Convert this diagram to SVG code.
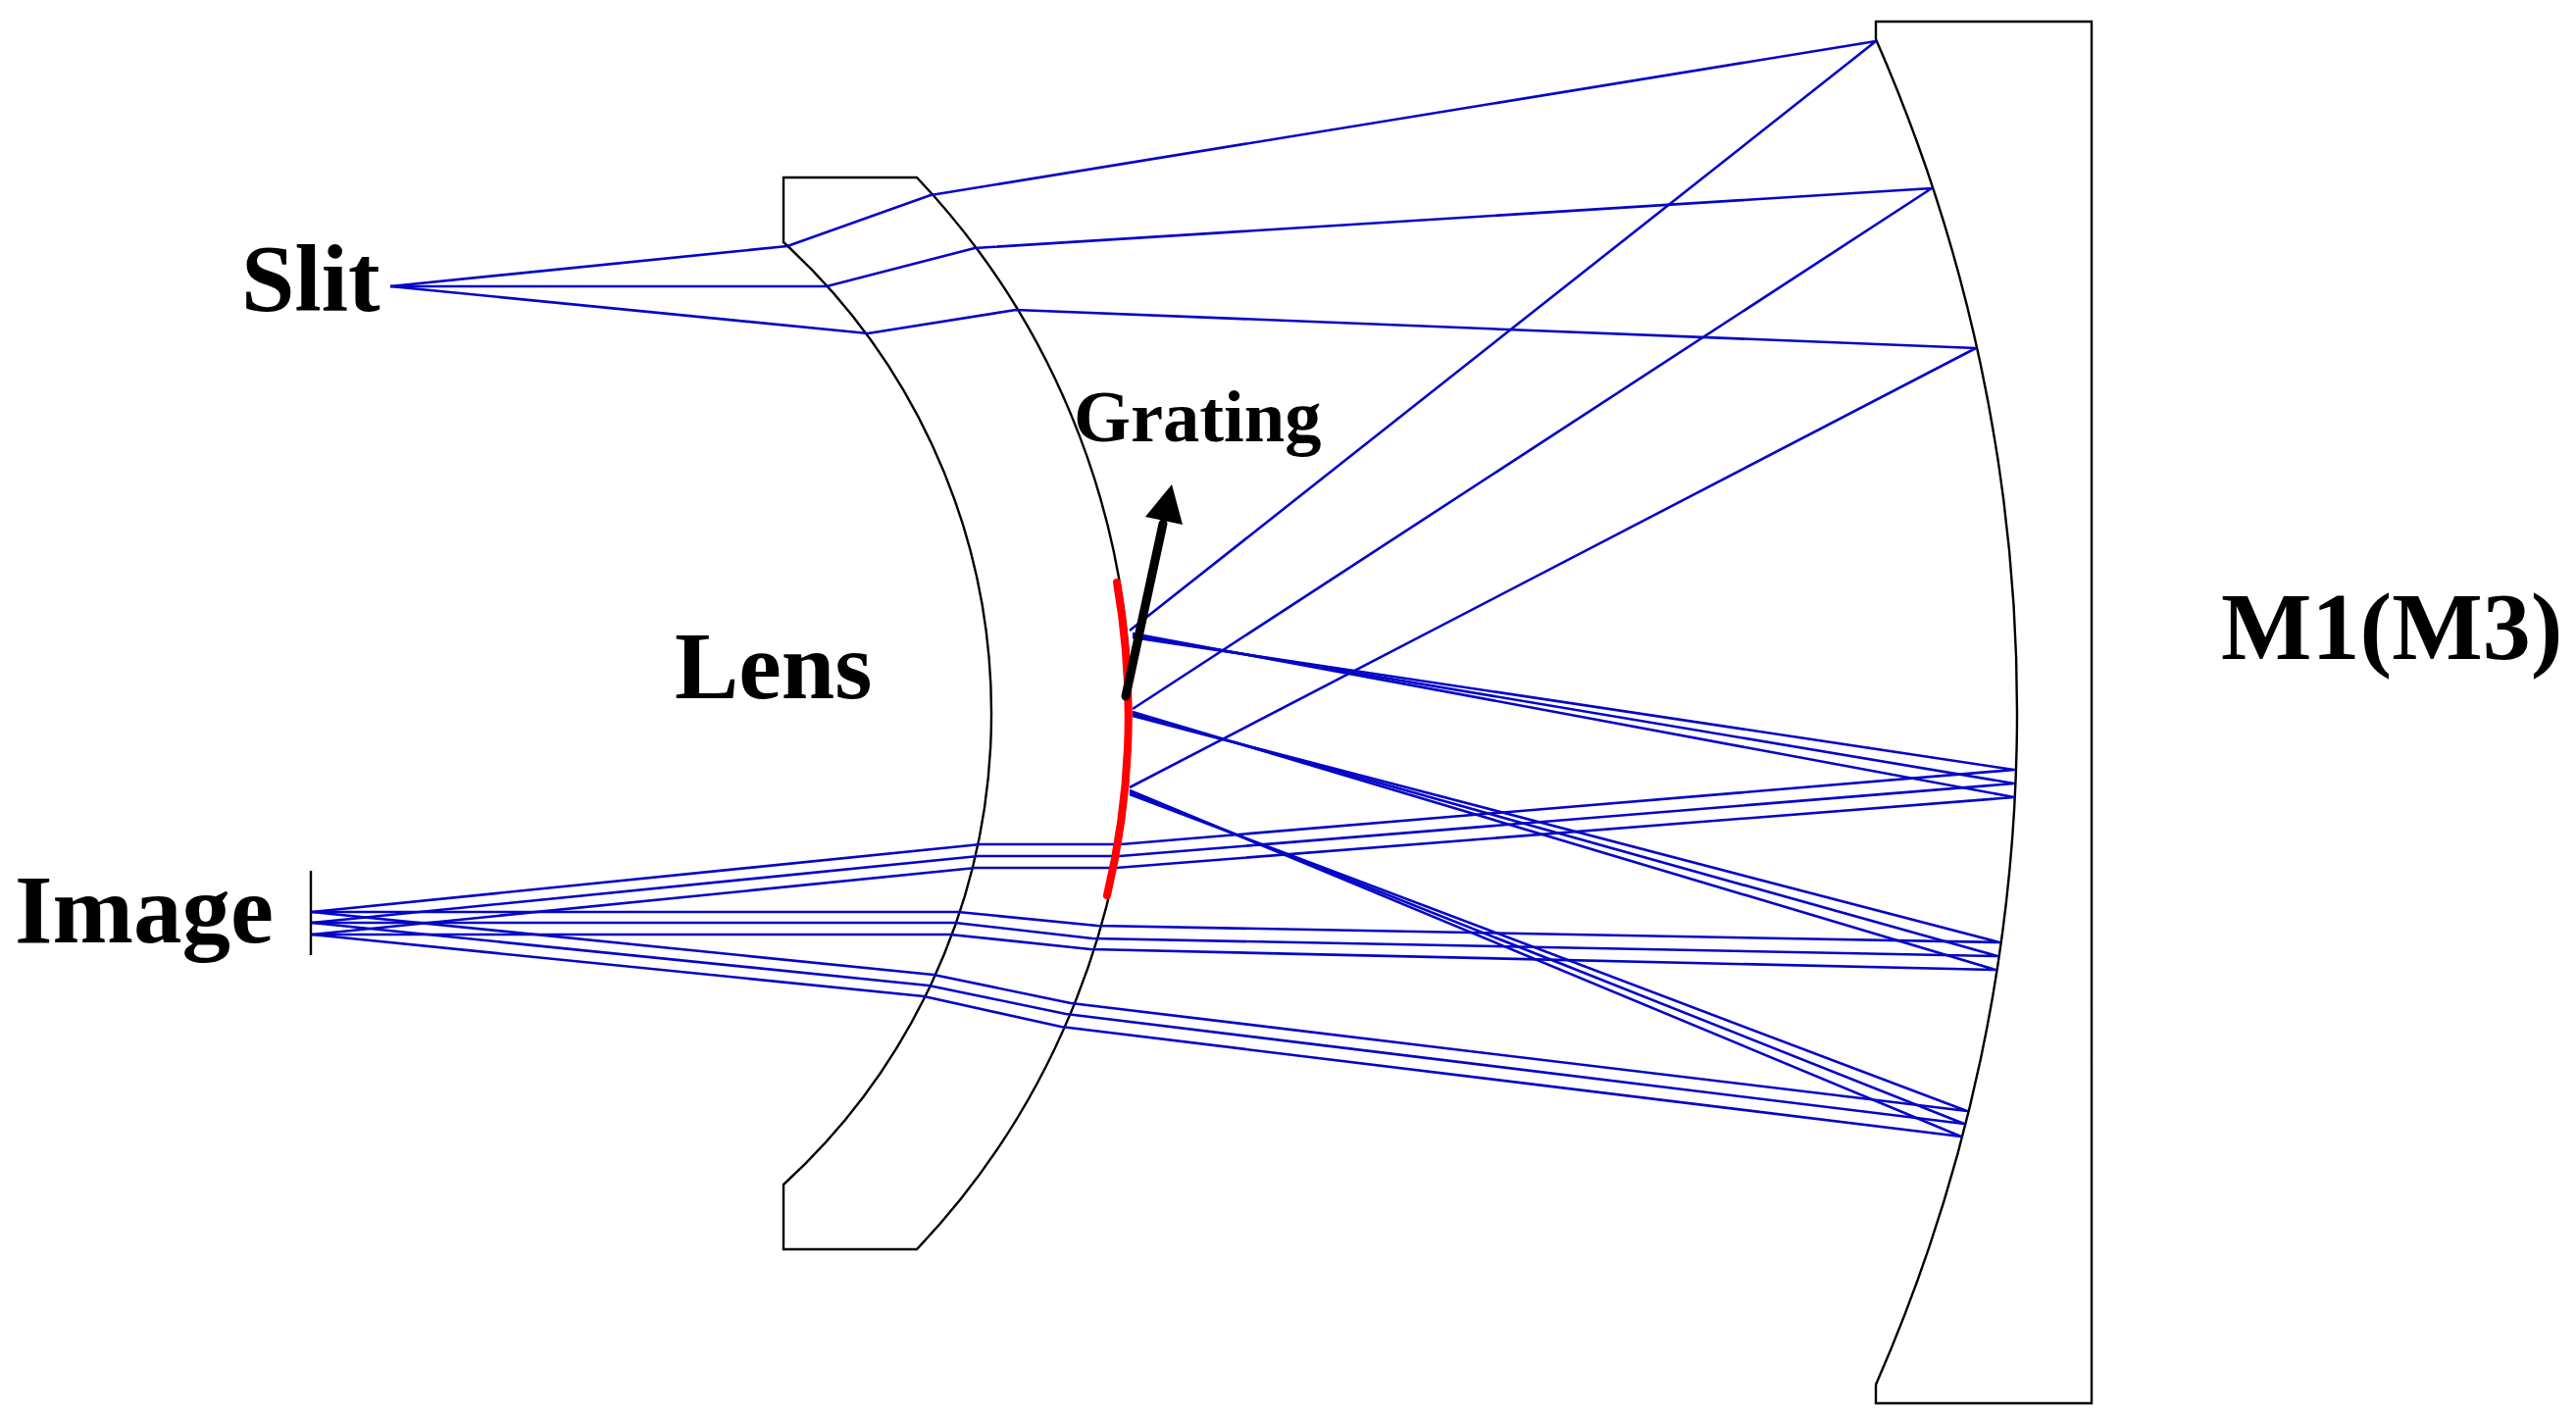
<svg xmlns="http://www.w3.org/2000/svg" width="2627" height="1444" viewBox="0 0 2627 1444">
<style>
.o{fill:none;stroke:#000;stroke-width:2.4}
.r{fill:none;stroke:#0505c8;stroke-width:2.6;stroke-linejoin:round}
.t{font-family:"Liberation Serif","Times New Roman",serif;font-weight:700;fill:#000}
</style>
<rect width="2627" height="1444" fill="#fff"/>
<g id="lens"><path class="o" d="M799 181H935A794 794 0 0 1 935 1274H799V1208A650.5 650.5 0 0 0 799 247Z"/><text class="t" font-size="98" x="688" y="712">Lens</text></g>
<g id="m1"><path class="o" d="M1913 22H2133V1431H1913V1412A1706 1706 0 0 0 1913 40Z"/><text class="t" font-size="98" x="2265" y="672">M1(M3)</text></g>
<g id="slit"><text class="t" font-size="98" x="246" y="317">Slit</text></g>
<g id="image"><path class="o" d="M317 888V974"/><text class="t" font-size="99" x="15" y="961">Image</text></g>
<g id="connectors">
<path class="r" d="M398 292L803 251L949 199L1913 42L1152 643"/>
<path class="r" d="M398 292L843 292L994 253L1970 192L1155 723"/>
<path class="r" d="M398 292L885 340L1036 316L2015 355L1152 803"/>
<path class="r" d="M1155 650L2054 785L1143 861L1000 861L318 930"/>
<path class="r" d="M1155 648L2054 799L1142 873L998 873L318 941"/>
<path class="r" d="M1155 646L2054 813L1138 885L995 885L318 953"/>
<path class="r" d="M1155 730L2039 961L1119 944L977 930L318 930"/>
<path class="r" d="M1155 728L2037 975L1114 957L974 941L318 941"/>
<path class="r" d="M1155 726L2035 989L1112 968L969 953L318 953"/>
<path class="r" d="M1152 810L2006 1133L1092 1023L952 994L318 930"/>
<path class="r" d="M1152 808L2003 1146L1087 1034L947 1005L318 941"/>
<path class="r" d="M1152 806L2000 1159L1082 1047L942 1016L318 953"/>
</g>
<g id="grating">
<path d="M1139 594A794 794 0 0 1 1129 913" fill="none" stroke="#f00" stroke-width="8" stroke-linecap="round"/>
<path d="M1148 710L1186 534" stroke="#000" stroke-width="9" stroke-linecap="round"/>
<path d="M1195 494L1168 527L1206 535Z" fill="#000"/>
<text class="t" font-size="74.5" x="1095" y="450">Grating</text>
</g>
</svg>
